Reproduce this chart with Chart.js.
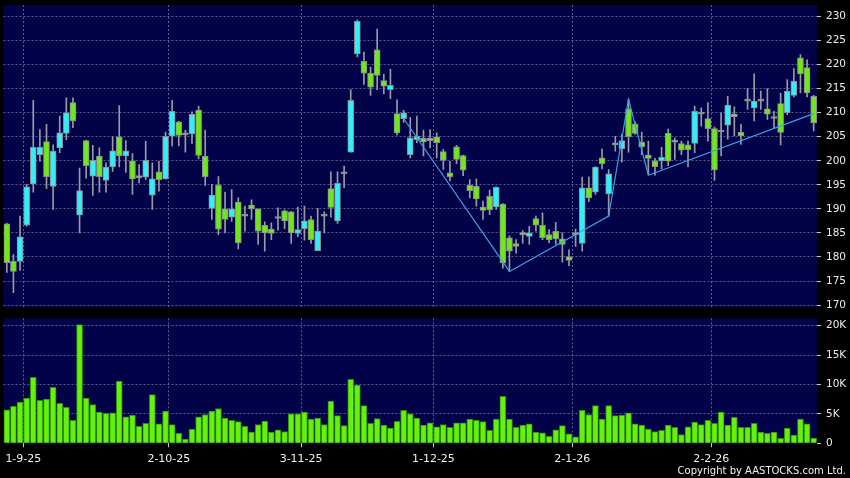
<!DOCTYPE html>
<html><head><meta charset="utf-8">
<script src="https://cdn.jsdelivr.net/npm/chart.js@4"></script>
<style>
html,body{margin:0;padding:0;background:#000;}
#wrap{position:relative;width:850px;height:478px;background:#000;overflow:hidden;}
#c1{position:absolute;left:0;top:0;}
#c2{position:absolute;left:0;top:312px;}
#copy{position:absolute;right:4px;top:465px;color:#f0f0f0;font:10px "DejaVu Sans";line-height:12px;white-space:nowrap;}
</style></head><body>
<div id="wrap">
<canvas id="c1" width="850" height="312"></canvas>
<canvas id="c2" width="850" height="166"></canvas>
<div id="copy">Copyright by AASTOCKS.com Ltd.</div>
</div>
<script>
// ---- data ----
const openP = [186.9,179.1,179.1,186.6,195.2,201.3,204.0,194.7,202.7,205.7,212.1,188.7,204.2,196.8,201.0,195.9,198.75,205.0,201.0,200.0,
196.5,196.6,192.85,197.7,196.25,205.1,208.1,205.4,205.6,210.55,201.0,190.1,194.9,190.0,188.3,191.4,188.5,190.8,190.0,186.6,
185.8,188.0,189.6,189.4,184.9,185.9,187.8,181.3,188.9,194.2,187.5,197.3,201.8,222.25,220.7,218.2,223.1,216.7,214.8,209.8,
208.75,201.3,204.4,204.65,204.2,205.0,201.9,197.5,202.9,201.1,194.9,194.7,190.4,192.6,190.4,191.0,184.0,182.8,184.65,184.3,
188.0,186.6,184.65,185.35,183.8,180.1,184.65,182.8,194.4,193.5,200.6,193.1,203.3,202.5,210.8,207.7,203.9,201.2,200.0,200.0,
205.7,203.9,203.6,203.3,203.6,209.9,208.8,206.7,206.0,207.4,209.2,205.9,212.8,211.0,212.4,210.8,208.8,211.9,210.0,213.6,
221.4,219.4,213.4];
const highP = [187.0,180.5,188.5,195.1,212.6,206.5,207.6,203.3,209.3,213.1,213.1,198.5,204.3,203.2,202.7,199.6,205.0,211.5,204.2,201.5,
199.2,204.1,199.6,199.9,206.0,212.6,208.2,206.4,210.2,211.4,206.4,195.1,196.7,193.5,194.0,192.3,190.6,191.9,190.0,187.3,
187.1,190.2,189.8,189.5,190.4,190.6,188.5,190.1,189.4,197.7,197.7,198.9,214.8,229.3,222.6,219.5,227.4,218.0,219.1,212.7,
210.5,209.0,209.3,206.4,206.5,205.8,202.4,199.9,203.2,201.2,196.1,196.25,191.6,193.9,194.6,191.1,184.4,183.6,185.5,186.4,
188.5,189.2,185.7,187.2,185.0,181.5,185.8,196.6,196.6,198.8,202.5,198.2,205.1,205.5,212.8,208.1,206.0,204.1,200.5,202.8,
206.6,204.8,204.1,204.1,211.4,211.0,212.1,207.0,210.0,213.4,211.2,207.6,215.0,218.1,214.5,215.0,210.3,214.1,216.9,219.2,
222.1,221.0,213.6];
const lowP = [176.8,172.6,177.2,186.4,193.5,199.9,194.2,189.9,201.7,204.4,206.9,185.0,196.4,192.8,193.5,193.5,197.8,198.75,197.6,193.0,
195.4,196.1,189.9,193.7,196.2,203.1,203.1,201.8,203.6,200.4,194.9,187.8,184.65,185.0,187.4,181.7,185.35,187.8,182.6,181.2,
183.6,185.6,185.9,182.8,184.2,183.5,182.8,181.3,185.0,188.3,187.0,194.4,201.8,221.6,215.9,213.6,214.8,213.9,212.9,205.4,
208.0,200.6,203.75,201.0,202.7,200.6,198.2,195.8,199.4,196.9,192.3,190.55,187.8,188.8,189.9,177.7,177.0,180.8,182.8,182.6,
185.35,183.6,182.9,182.6,178.9,178.2,182.2,181.2,191.5,193.0,198.3,188.5,202.0,199.7,201.8,205.5,201.3,197.2,197.0,198.3,
199.0,200.3,201.3,198.8,201.7,207.2,204.1,195.9,201.0,204.5,205.2,203.4,210.7,208.3,210.7,208.6,206.9,203.3,209.6,213.3,
214.1,213.3,206.2];
const closeP = [178.8,177.0,184.2,194.6,202.8,202.8,196.7,202.0,205.8,210.0,208.3,193.8,199.0,200.1,196.7,198.7,202.1,201.0,202.1,196.25,
196.5,200.1,196.25,196.1,205.1,210.3,205.3,205.4,209.65,201.1,196.7,192.85,185.8,187.8,190.0,182.9,188.5,190.0,185.35,185.0,
184.9,188.0,187.5,185.0,185.7,187.5,183.6,185.4,188.5,190.3,195.3,197.3,212.6,229.0,218.2,215.3,217.75,215.5,215.7,205.8,
210.0,204.8,205.1,203.95,204.65,203.75,200.1,196.7,200.3,198.05,193.8,192.1,189.7,189.85,194.5,178.75,181.2,182.2,184.65,185.0,
186.6,184.0,183.6,183.75,182.6,179.3,184.65,194.4,192.3,198.7,199.4,197.3,203.5,204.2,205.0,205.7,202.9,200.5,198.8,200.7,
199.9,204.3,202.2,202.3,210.3,209.7,206.7,198.1,206.0,211.6,209.7,205.2,212.4,212.4,212.4,209.7,208.8,205.9,214.5,216.6,
218.1,214.1,207.9];
// volume in thousands of shares
const volumeK = [5.7,6.3,7.0,7.7,11.2,7.3,7.5,9.5,6.8,6.1,3.9,20.2,7.7,6.6,5.3,5.1,5.2,10.6,4.5,4.8,
2.9,3.4,8.3,3.3,5.5,3.2,1.7,0.7,2.4,4.5,4.9,5.5,5.9,4.3,3.9,3.7,2.9,1.9,3.2,3.8,
1.9,2.3,2.0,5.0,5.0,5.3,4.1,4.3,3.2,7.2,4.7,3.0,10.9,9.9,6.4,3.4,4.2,3.1,2.6,3.75,
5.6,5.0,4.3,3.1,3.5,2.8,3.2,2.7,3.5,3.5,4.1,3.9,3.7,2.2,4.1,8.0,4.1,2.7,3.1,3.3,
1.9,1.8,1.2,2.3,3.0,1.6,1.1,5.6,4.9,6.4,4.1,6.4,4.7,4.8,5.2,3.3,3.1,2.4,2.0,2.2,
3.1,2.7,1.5,2.8,3.6,3.2,3.9,3.4,5.3,3.1,4.4,2.7,2.7,3.4,1.9,1.7,1.9,0.85,2.6,1.4,
4.1,3.3,0.9];
// zigzag trend line (candle index, price)
const zigIndex = [60,76,91,94,97,122];
const zigPrice = [208.8,177.0,188.5,212.8,197.0,209.8];
// axis ticks
const dateTickIndex = [2,24,44,64,85,106];
const dateTickLabels = ['1-9-25','2-10-25','3-11-25','1-12-25','2-1-26','2-2-26'];
const priceTicks = [170,175,180,185,190,195,200,205,210,215,220,225,230];
const volTicks = [0,5,10,15,20];
const volTickLabels = ['0','5K','10K','15K','20K'];

// ---- styling ----
const NAVY = '#020249';
const GRID = 'rgba(120,120,165,0.75)';
const UP = '#33eef8', DOWN = '#70e61c', FLAT = '#a8b4c0';
const FONT = 'DejaVu Sans';
const idx = openP.map((_, i) => i);

const bgPlugin = {id:'bg', beforeDraw(chart){
  const {ctx, chartArea:a} = chart;
  ctx.save(); ctx.fillStyle = NAVY;
  ctx.fillRect(a.left, a.top, a.right - a.left, a.bottom - a.top);
  ctx.restore();
}};
function zeroPad(s){ s.paddingTop = 0; s.paddingBottom = 0; s.paddingLeft = 0; s.paddingRight = 0; }

const xGrid = {
  type:'linear', min:-0.5, max:122.5, offset:false,
  afterBuildTicks(s){ s.ticks = dateTickIndex.map(v => ({value: v + 0.5})); },
  grid:{color:GRID, drawTicks:false, lineWidth:1, offset:false},
  border:{display:false, dash:[2,2]},
  ticks:{display:false},
  afterFit(s){ s.height = 0; zeroPad(s); }
};

new Chart(document.getElementById('c1'), {
  type:'bar',
  data:{datasets:[
    {type:'line', data: zigIndex.map((x,i)=>({x, y: zigPrice[i]})), borderColor:'#3c9ee6', borderWidth:1.2,
     pointRadius:0, tension:0, order:1},
    {data: idx.map(i=>({x:i, y:[openP[i], closeP[i]]})),
     backgroundColor: idx.map(i => closeP[i] > openP[i] ? UP : (closeP[i] < openP[i] ? DOWN : FLAT)),
     borderColor:'#8c8c94', borderWidth:1, borderSkipped:false, grouped:false,
     barThickness:6, minBarLength:2, order:2},
    {data: idx.map(i=>({x:i, y:[lowP[i], highP[i]]})), backgroundColor:'#9a9aa4',
     barThickness:1, grouped:false, order:3}
  ]},
  options:{
    responsive:false, animation:false, devicePixelRatio:1,
    layout:{padding:{left:3.5, top:5, right:0, bottom:5}},
    plugins:{legend:{display:false}, tooltip:{enabled:false}},
    scales:{
      x: xGrid,
      y:{position:'right', min:169.6, max:232.4,
        afterBuildTicks(s){ s.ticks = priceTicks.map(v=>({value:v})); },
        grid:{color:GRID, tickColor:'#c8c8c8', tickLength:4, tickBorderDash:[]},
        border:{display:false, dash:[2,2]},
        ticks:{color:'#ececec', font:{family:FONT, size:10.5}, padding:5},
        afterFit(s){ s.width = 33; zeroPad(s); }
      }
    }
  },
  plugins:[bgPlugin]
});

new Chart(document.getElementById('c2'), {
  type:'bar',
  data:{datasets:[
    {data: idx.map(i=>({x:i, y: volumeK[i]})), backgroundColor:'#66f00e', borderColor:'#2f8a08',
     borderWidth:1, barThickness:6}
  ]},
  options:{
    responsive:false, animation:false, devicePixelRatio:1,
    layout:{padding:{left:3.5, top:6.3, right:0, bottom:0}},
    plugins:{legend:{display:false}, tooltip:{enabled:false}},
    scales:{
      x:{type:'linear', min:-0.5, max:122.5, offset:false,
        afterBuildTicks(s){ s.ticks = dateTickIndex.map(v => ({value: v + 0.5})); },
        grid:{color:GRID, tickColor:'#c8c8c8', tickLength:4, tickBorderDash:[], offset:false},
        border:{display:false, dash:[2,2]},
        ticks:{color:'#f0f0f0', font:{family:FONT, size:11}, padding:5, maxRotation:0, autoSkip:false,
          callback:(v, i) => dateTickLabels[i]},
        afterFit(s){ s.height = 34.7; zeroPad(s); }
      },
      y:{position:'right', min:0, max:21.26,
        afterBuildTicks(s){ s.ticks = volTicks.map(v=>({value:v})); },
        grid:{color:(c)=> c.tick && c.tick.value === 0 ? 'rgba(0,0,0,0)' : GRID, tickColor:'#c8c8c8', tickLength:4, tickBorderDash:[]},
        border:{display:false, dash:[2,2]},
        ticks:{color:'#ececec', font:{family:FONT, size:10.5}, padding:5, callback:(v, i) => volTickLabels[i]},
        afterFit(s){ s.width = 33; zeroPad(s); }
      }
    }
  },
  plugins:[bgPlugin]
});
</script>
</body></html>
